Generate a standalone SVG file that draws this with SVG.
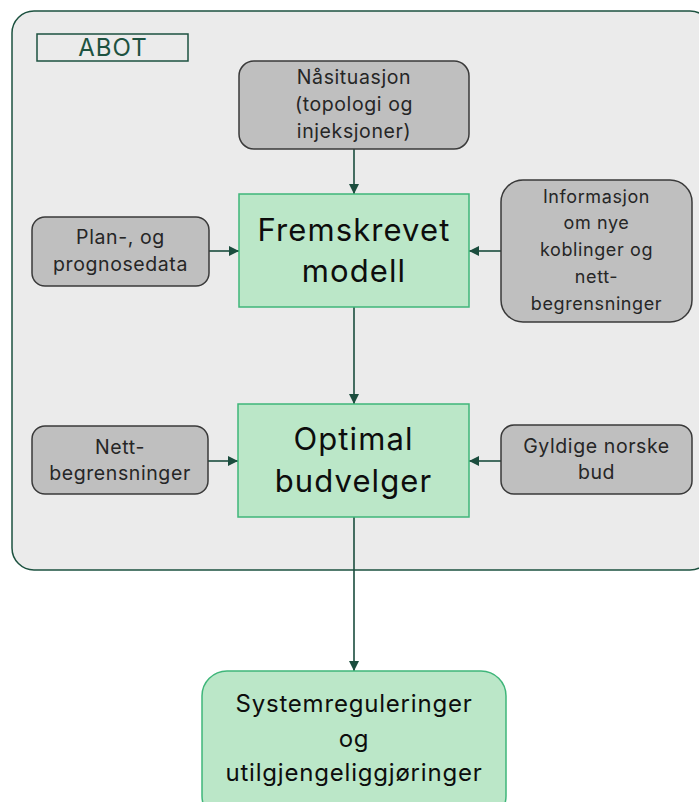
<svg xmlns="http://www.w3.org/2000/svg" width="699" height="802" viewBox="0 0 699 802">
  <style>
    .bg { fill: #ffffff; }
    .frame { fill: #ebebeb; stroke: #1d5240; stroke-width: 1.5; }
    .tag { fill: none; stroke: #1d5240; stroke-width: 1.5; }
    .tagtxt { font-family: Inter, "Liberation Sans", sans-serif; font-size: 24px; letter-spacing: 1px; fill: #1d5240; text-anchor: middle; }
    .input { fill: #bfbfbf; stroke: #3a3a3a; stroke-width: 1.5; }
    .intxt { font-family: Inter, "Liberation Sans", sans-serif; font-size: 18px; letter-spacing: 0.6px; fill: #262626; text-anchor: middle; }
    .intxt.lg { font-size: 19.5px; letter-spacing: 0.6px; }
    .step { fill: #bbe7c8; stroke: #3fb67a; stroke-width: 1.5; }
    .bigtxt { font-family: Inter, "Liberation Sans", sans-serif; font-size: 31px; letter-spacing: 1.1px; fill: #0d0d0d; text-anchor: middle; }
    .outtxt { font-family: Inter, "Liberation Sans", sans-serif; font-size: 24px; letter-spacing: 0.8px; fill: #0d0d0d; text-anchor: middle; }
    .link { fill: none; stroke: #1b4d3e; stroke-width: 1.6; marker-end: url(#head); }
  </style>
  <defs>
    <marker id="head" viewBox="0 0 10 10" refX="10" refY="5" markerWidth="10" markerHeight="10" markerUnits="userSpaceOnUse" orient="auto">
      <path d="M0,0 L10,5 L0,10 Z" fill="#1b4d3e"/>
    </marker>
  </defs>

  <rect class="bg" x="0" y="0" width="699" height="802"/>

  <!-- ABOT boundary -->
  <g id="abot">
    <rect class="frame" x="12" y="11" width="700" height="559" rx="22" ry="22"/>
    <rect class="tag" x="37" y="34" width="151" height="27"/>
    <text class="tagtxt" x="113" y="56">ABOT</text>
  </g>

  <!-- connectors -->
  <g id="connectors">
    <line class="link" x1="354" y1="149" x2="354" y2="194"/>
    <line class="link" x1="209" y1="251" x2="239" y2="251"/>
    <line class="link" x1="501" y1="251" x2="469" y2="251"/>
    <line class="link" x1="354" y1="307" x2="354" y2="404"/>
    <line class="link" x1="208" y1="461" x2="238" y2="461"/>
    <line class="link" x1="501" y1="461" x2="469" y2="461"/>
    <line class="link" x1="354" y1="517" x2="354" y2="671"/>
  </g>

  <g id="nasituasjon">
    <rect class="input" x="239" y="61" width="230" height="88" rx="15" ry="15"/>
    <text class="intxt lg" x="354" y="84">Nåsituasjon</text>
    <text class="intxt lg" x="354" y="111">(topologi og</text>
    <text class="intxt lg" x="354" y="138">injeksjoner)</text>
  </g>

  <g id="plan">
    <rect class="input" x="32" y="217" width="177" height="69" rx="13" ry="13"/>
    <text class="intxt lg" x="120.5" y="244">Plan-, og</text>
    <text class="intxt lg" x="120.5" y="271">prognosedata</text>
  </g>

  <g id="informasjon">
    <rect class="input" x="501" y="180" width="191" height="142" rx="22" ry="22"/>
    <text class="intxt" x="596.5" y="203">Informasjon</text>
    <text class="intxt" x="596.5" y="229">om nye</text>
    <text class="intxt" x="596.5" y="256">koblinger og</text>
    <text class="intxt" x="596.5" y="283">nett-</text>
    <text class="intxt" x="596.5" y="310">begrensninger</text>
  </g>

  <g id="fremskrevet">
    <rect class="step" x="239" y="194" width="230" height="113"/>
    <text class="bigtxt" x="354" y="241">Fremskrevet</text>
    <text class="bigtxt" x="354" y="282">modell</text>
  </g>

  <g id="nett">
    <rect class="input" x="32" y="426" width="176" height="68" rx="13" ry="13"/>
    <text class="intxt lg" x="120" y="454">Nett-</text>
    <text class="intxt lg" x="120" y="480">begrensninger</text>
  </g>

  <g id="gyldige">
    <rect class="input" x="501" y="425" width="191" height="69" rx="13" ry="13"/>
    <text class="intxt lg" x="596.5" y="453">Gyldige norske</text>
    <text class="intxt lg" x="596.5" y="479">bud</text>
  </g>

  <g id="optimal">
    <rect class="step" x="238" y="404" width="231" height="113"/>
    <text class="bigtxt" x="353.5" y="450">Optimal</text>
    <text class="bigtxt" x="353.5" y="492">budvelger</text>
  </g>

  <g id="systemreguleringer">
    <rect class="step" x="202" y="671" width="304" height="150" rx="25" ry="25"/>
    <text class="outtxt" x="354" y="712">Systemreguleringer</text>
    <text class="outtxt" x="354" y="747">og</text>
    <text class="outtxt" x="354" y="781">utilgjengeliggjøringer</text>
  </g>
</svg>
